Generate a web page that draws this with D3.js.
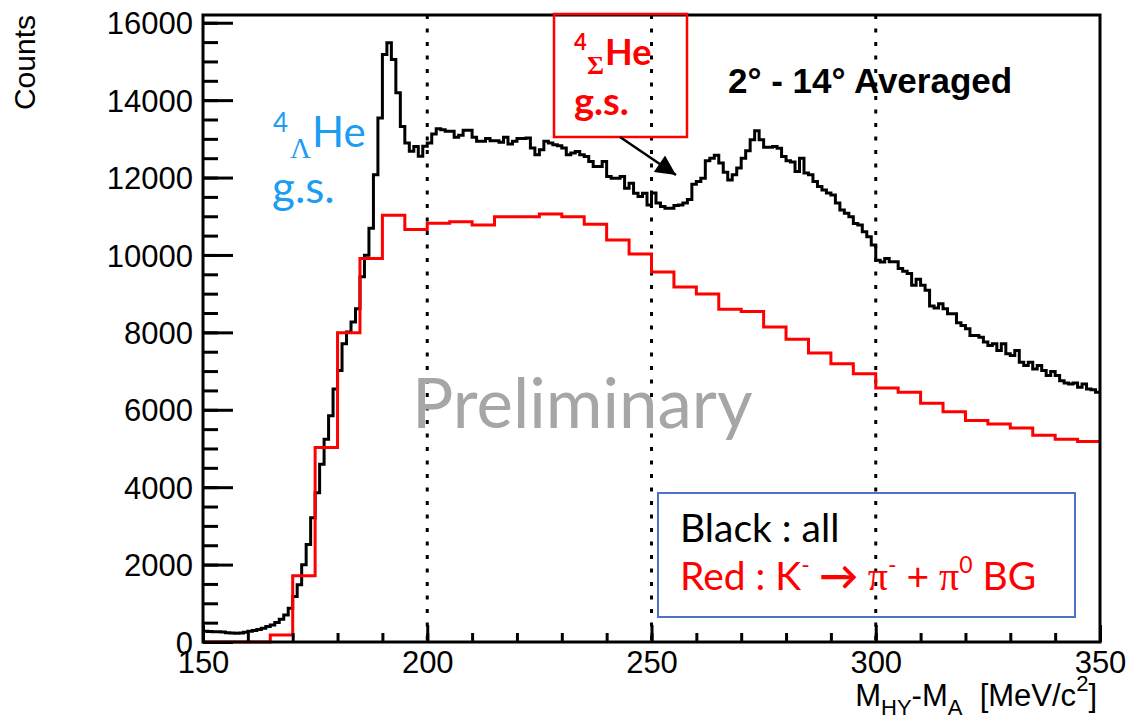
<!DOCTYPE html>
<html>
<head>
<meta charset="utf-8">
<script src="https://cdn.jsdelivr.net/npm/d3@7"></script>
<style>
  body { margin: 0; background: #fff; }
  svg { display: block; background: #fff; }
</style>
</head>
<body>
<svg id="chart" width="1128" height="718"></svg>
<script>
// black histogram: all events, 1 MeV bins starting at 150
const blackStart = 150;
const blackBinWidth = 1;
const blackCounts = [
    275, 270, 265, 262, 258, 240, 230, 225, 235, 250,
    280, 300, 320, 354, 398, 441, 502, 588, 700, 873,
    1176, 1479, 1997, 2516, 3208, 3856, 4591, 5240, 5845, 6537,
    7013, 7704, 8007, 8266, 8612, 9440, 9990, 10690, 12070, 13540,
    15180, 15480, 15050, 14190, 13320, 12890, 12680, 12800, 12550, 12810,
    12890, 13126, 13264, 13238, 13195, 13195, 13040, 13090, 13220, 13220,
    13040, 12936, 12936, 13006, 12954, 12954, 12910, 13040, 12866, 12936,
    13006, 13006, 13022, 12763, 12590, 12720, 12936, 12892, 12850, 12820,
    12763, 12590, 12633, 12676, 12590, 12547, 12417, 12287, 12287, 12417,
    12028, 11985, 11985, 12028, 11725, 11855, 11595, 11509, 11595, 11293,
    11600, 11340, 11250, 11205, 11205, 11275, 11290, 11340, 11430, 11830,
    11900, 11985, 12435, 12500, 12575, 12375, 12140, 11940, 12070, 12245,
    12500, 12695, 12980, 13210, 12980, 12780, 12780, 12800, 12760, 12545,
    12435, 12400, 12155, 12500, 12115, 12070, 11900, 11770, 11680, 11600,
    11550, 11340, 11160, 11075, 10990, 10815, 10775, 10600, 10470, 10255,
    9865, 9820, 9909, 9823, 9823, 9650, 9580, 9520, 9217, 9372,
    9217, 9088, 8682, 8630, 8742, 8612, 8482, 8482, 8249, 8180,
    8093, 7920, 7920, 7877, 7748, 7661, 7705, 7531, 7705, 7445,
    7402, 7531, 7229, 7142, 7229, 7056, 7142, 7013, 6883, 6986,
    6883, 6753, 6693, 6667, 6693, 6580, 6667, 6537, 6520, 6450
];

// red histogram: K- -> pi- + pi0 background, 5 MeV bins starting at 150
const redStart = 150;
const redBinWidth = 5;
const redCounts = [
    0, 0, 0, 181, 1712, 5024, 7990, 9909, 11025, 10660,
    10817, 10860, 10774, 10990, 10990, 11059, 10990, 10791, 10385, 10022,
    9560, 9170, 8990, 8600, 8540, 8140, 7820, 7470, 7190, 6930,
    6560, 6450, 6170, 5950, 5720, 5630, 5530, 5340, 5240, 5180
];

const xDomain = [150, 350];
const yDomain = [0, 16200];
const xTickValues = [150, 200, 250, 300, 350];
const xMinorTicks = d3.range(150, 351, 10);
const yTickValues = [0, 2000, 4000, 6000, 8000, 10000, 12000, 14000, 16000];
const yMinorTicks = d3.range(0, 16001, 500);
const markerLines = [200, 250, 300];

const axisFont = "'Liberation Sans', Arial, sans-serif";
const noteFont = "Lato, 'Open Sans', sans-serif";
const symbolFont = "'Liberation Serif', 'DejaVu Serif', serif";

// histogram -> points for a step line
function toSteps(start, width, counts) {
    const pts = counts.map((c, i) => [start + i * width, c]);
    pts.push([start + counts.length * width, counts[counts.length - 1]]);
    return pts;
}

function drawChart() {
    const svg = d3.select("#chart");
    svg.selectAll("*").remove();

    const area = { left: 203, right: 1100, top: 15, bottom: 642 };

    const scX = d3.scaleLinear().domain(xDomain).range([area.left, area.right]);
    const scY = d3.scaleLinear().domain(yDomain).range([area.bottom, area.top]);

    // dotted marker lines
    svg.selectAll(".marker")
        .data(markerLines)
        .enter()
        .append("line")
        .attr("x1", d => scX(d)).attr("x2", d => scX(d))
        .attr("y1", area.top).attr("y2", area.bottom)
        .style("stroke", "#000")
        .style("stroke-width", 3)
        .style("stroke-dasharray", "4 9.5");

    // "Preliminary" watermark
    svg.append("text")
        .attr("x", 412).attr("y", 428)
        .style("font-family", noteFont)
        .style("font-size", "69px")
        .style("fill", "#a6a6a6")
        .text("Preliminary");

    const line = d3.line()
        .x(d => scX(d[0]))
        .y(d => scY(d[1]))
        .curve(d3.curveStepAfter);

    svg.append("path")
        .datum(toSteps(blackStart, blackBinWidth, blackCounts))
        .attr("d", line)
        .style("fill", "none")
        .style("stroke", "#000")
        .style("stroke-width", 3);

    svg.append("path")
        .datum(toSteps(redStart, redBinWidth, redCounts))
        .attr("d", line)
        .style("fill", "none")
        .style("stroke", "#ff0000")
        .style("stroke-width", 3);

    createAxis(svg, scX, scY, area);
    drawNotes(svg);
}

function createAxis(svg, scX, scY, area) {
    // minor ticks first, then the major ones with labels
    svg.append("g")
        .attr("transform", `translate(0, ${area.bottom})`)
        .call(d3.axisBottom(scX).tickValues(xMinorTicks).tickSize(-9).tickFormat(""))
        .call(g => g.select(".domain").remove());

    svg.append("g")
        .attr("transform", `translate(${area.left}, 0)`)
        .call(d3.axisLeft(scY).tickValues(yMinorTicks).tickSize(-15).tickFormat(""))
        .call(g => g.select(".domain").remove());

    const gx = svg.append("g")
        .attr("transform", `translate(0, ${area.bottom})`)
        .call(d3.axisBottom(scX).tickValues(xTickValues).tickSize(-17).tickPadding(9));
    gx.select(".domain").remove();

    const gy = svg.append("g")
        .attr("transform", `translate(${area.left}, 0)`)
        .call(d3.axisLeft(scY).tickValues(yTickValues).tickSize(-30).tickPadding(10)
            .tickFormat(d3.format("d")));
    gy.select(".domain").remove();
    gy.selectAll("text").attr("dy", "0.36em");

    svg.selectAll(".tick line")
        .style("stroke", "#000")
        .style("stroke-width", 3);
    svg.selectAll(".tick text")
        .style("font-family", axisFont)
        .style("font-size", "31px")
        .style("fill", "#000");

    // frame
    svg.append("rect")
        .attr("x", area.left).attr("y", area.top)
        .attr("width", area.right - area.left)
        .attr("height", area.bottom - area.top)
        .style("fill", "none")
        .style("stroke", "#000")
        .style("stroke-width", 3);

    // axis titles
    svg.append("text")
        .attr("transform", "translate(35, 15) rotate(-90)")
        .attr("text-anchor", "end")
        .style("font-family", axisFont)
        .style("font-size", "30px")
        .text("Counts");

    const xt = svg.append("text")
        .attr("x", 1097).attr("y", 706)
        .attr("text-anchor", "end")
        .style("font-family", axisFont)
        .style("font-size", "31px");
    xt.append("tspan").text("M");
    xt.append("tspan").attr("dy", 9).style("font-size", "22px").text("HY");
    xt.append("tspan").attr("dy", -9).text("-M");
    xt.append("tspan").attr("dy", 9).style("font-size", "22px").text("A");
    xt.append("tspan").attr("dy", -9).text("\u00a0 [MeV/c");
    xt.append("tspan").attr("dy", -15).style("font-size", "22px").text("2");
    xt.append("tspan").attr("dy", 15).text("]");
}

function drawNotes(svg) {
    const blue = "#1c9cf2";
    const red = "#ff0000";

    // hypernuclear ground state label
    svg.append("text").attr("x", 273).attr("y", 132)
        .style("font-family", noteFont).style("font-size", "26px")
        .style("fill", blue).text("4");
    svg.append("text").attr("x", 290).attr("y", 158)
        .style("font-family", symbolFont).style("font-size", "29px")
        .style("fill", blue).text("\u039b");
    svg.append("text").attr("x", 312).attr("y", 147)
        .style("font-family", noteFont).style("font-size", "42px")
        .style("fill", blue).text("He");
    svg.append("text").attr("x", 272).attr("y", 203)
        .style("font-family", noteFont).style("font-size", "44px")
        .style("fill", blue).text("g.s.");

    // sigma hypernucleus box
    svg.append("rect")
        .attr("x", 554).attr("y", 14).attr("width", 133).attr("height", 123)
        .style("fill", "none").style("stroke", red).style("stroke-width", 2.5);
    svg.append("text").attr("x", 574).attr("y", 50)
        .style("font-family", noteFont).style("font-weight", "bold").style("font-size", "22px")
        .style("fill", red).text("4");
    svg.append("text").attr("x", 587).attr("y", 74)
        .style("font-family", symbolFont).style("font-weight", "bold").style("font-size", "26px")
        .style("fill", red).text("\u03a3");
    svg.append("text").attr("x", 605).attr("y", 65)
        .style("font-family", noteFont).style("font-weight", "bold").style("font-size", "36px")
        .style("fill", red).text("He");
    svg.append("text").attr("x", 574).attr("y", 115)
        .style("font-family", noteFont).style("font-weight", "bold").style("font-size", "38px")
        .style("fill", red).text("g.s.");

    // arrow
    svg.append("defs").append("marker")
        .attr("id", "head")
        .attr("viewBox", "0 0 10 10")
        .attr("refX", 10).attr("refY", 5)
        .attr("markerWidth", 9).attr("markerHeight", 8)
        .attr("markerUnits", "strokeWidth")
        .attr("orient", "auto")
        .append("path")
        .attr("d", "M0,0 L10,5 L0,10 Z")
        .style("fill", "#000");
    svg.append("line")
        .attr("x1", 620).attr("y1", 137).attr("x2", 676).attr("y2", 175)
        .style("stroke", "#000").style("stroke-width", 2.5)
        .attr("marker-end", "url(#head)");

    // angle range
    svg.append("text").attr("x", 728).attr("y", 93)
        .style("font-family", axisFont).style("font-weight", "bold").style("font-size", "35px")
        .text("2\u00b0 - 14\u00b0 Averaged");

    // legend box
    svg.append("rect")
        .attr("x", 658).attr("y", 493).attr("width", 417).attr("height", 124)
        .style("fill", "none").style("stroke", "#4f72c9").style("stroke-width", 2);
    svg.append("text").attr("x", 680).attr("y", 542)
        .style("font-family", noteFont).style("font-size", "39px")
        .text("Black : all");

    const lg = svg.append("text").attr("x", 680).attr("y", 590)
        .style("font-family", noteFont).style("font-size", "39px")
        .style("fill", red);
    lg.append("tspan").text("Red : K");
    lg.append("tspan").attr("dy", -17).style("font-size", "23px").text("-");
    lg.append("tspan").attr("dy", 17).style("font-weight", "bold").text(" \u2192 ");
    lg.append("tspan").style("font-family", symbolFont).style("font-size", "40px").text("\u03c0");
    lg.append("tspan").attr("dy", -17).style("font-size", "23px").text("-");
    lg.append("tspan").attr("dy", 17).text(" + ");
    lg.append("tspan").style("font-family", symbolFont).style("font-size", "40px").text("\u03c0");
    lg.append("tspan").attr("dy", -17).style("font-size", "23px").text("0");
    lg.append("tspan").attr("dy", 17).text(" BG");
}

drawChart();
</script>
</body>
</html>
